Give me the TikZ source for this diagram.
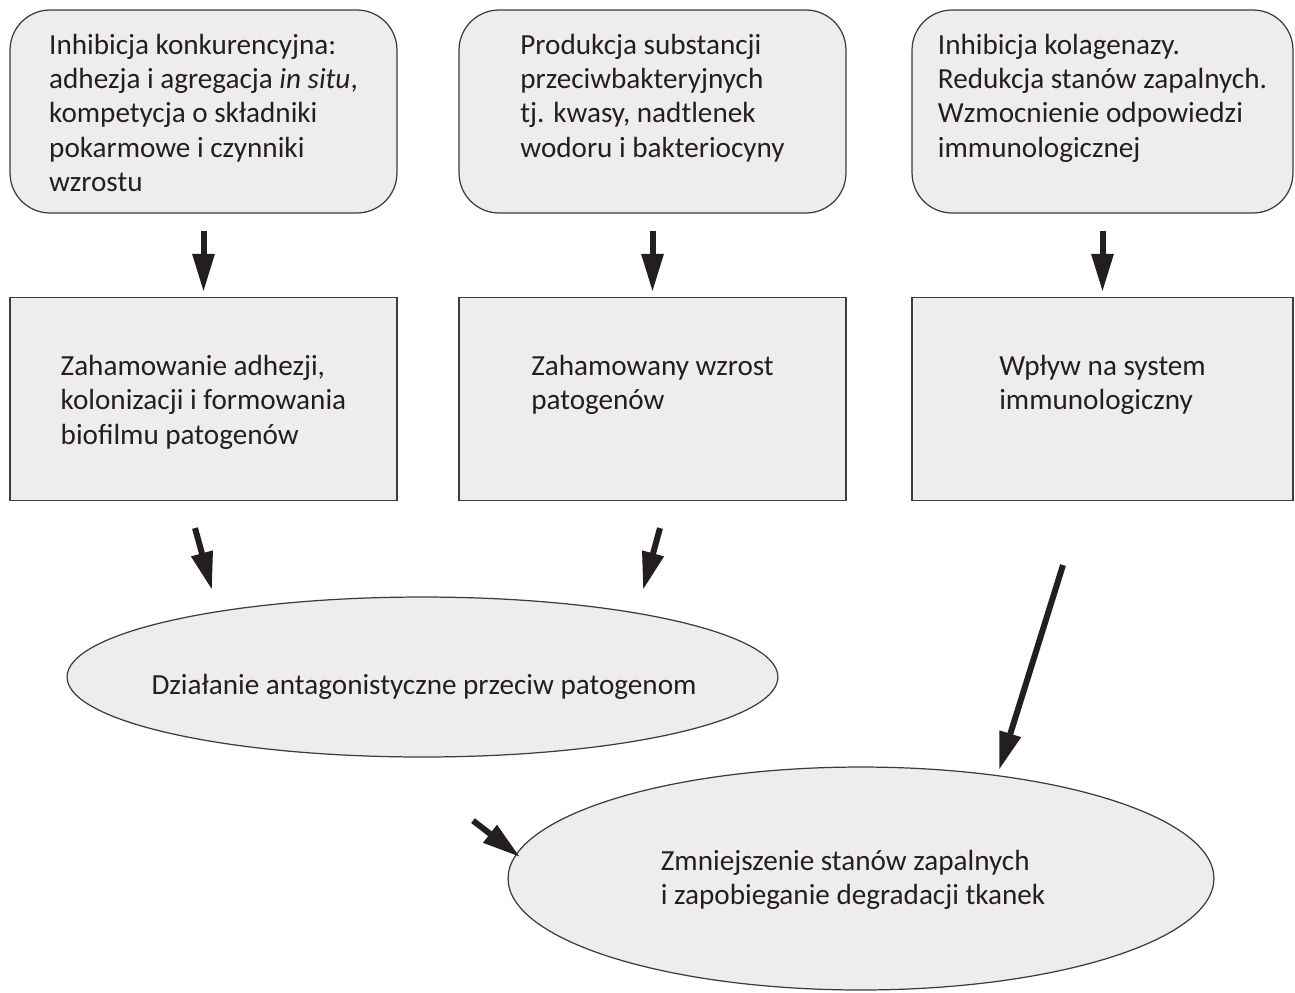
\documentclass[tikz,border=0pt]{standalone}
\usepackage{fontspec}
\setmainfont{Carlito}
\usetikzlibrary{
  arrows.meta,     % Triangle 箭头
  calc,            % 坐标计算
  positioning,     % 节点相对定位
  shapes.geometric % 椭圆节点
}
\definecolor{boxfill}{HTML}{EEEDEB}
\definecolor{boxline}{HTML}{3C3C3C}
\definecolor{ink}{HTML}{231F20}
\tikzset{
  box/.style={draw=boxline, fill=boxfill, line width=0.7pt, inner sep=0pt,
    minimum width=7.74cm, minimum height=4.06cm},
  topbox/.style={box, rounded corners=0.8cm},
  ell/.style={ellipse, draw=boxline, fill=boxfill, line width=0.7pt, inner sep=0pt},
  txt/.style={align=left, text=ink, inner sep=0pt, font=\fontsize{16.6}{19.6}\selectfont},
  arr/.style={draw=ink, line width=1.2mm, -{Triangle[length=7.6mm, width=4.2mm]}}
}

\begin{document}
\begin{tikzpicture}[x=0.02cm, y=-0.02cm] % 整体思路：坐标以像素为单位，y 轴向下
  \useasboundingbox (0,0) rectangle (1295,992); % 固定画布大小

  % 第一列
  \begin{scope}[shift={(0,0)}] % 第一列不平移
    \node[topbox] (T1) at (203.5,111.5) {}; % 上方圆角框
    \node[txt, anchor=north] (T1x) at ($(T1.north)+(0,24)$) {Inhibicja konkurencyjna:\\adhezja i agregacja \textit{in situ},\\kompetycja o składniki\\pokarmowe i czynniki\\wzrostu}; % 框内文字
    \node[box] (M1) at (203.5,399) {}; % 中间方框
    \node[txt, anchor=north] (M1x) at ($(M1.north)+(0,58)$) {Zahamowanie adhezji,\\kolonizacji i formowania\\biofilmu patogenów}; % 框内文字
    \draw[arr, shorten <=0.34cm, shorten >=0.1cm] (T1) -- (M1); % 竖直箭头
  \end{scope}

  % 第二列 (向右平移 449)
  \begin{scope}[shift={(449,0)}]
    \node[topbox] (T2) at (203.5,111.5) {};
    \node[txt, anchor=north] (T2x) at ($(T2.north)+(0,24)$) {Produkcja substancji\\przeciwbakteryjnych\\tj. kwasy, nadtlenek\\wodoru i bakteriocyny};
    \node[box] (M2) at (203.5,399) {};
    \node[txt, anchor=north] (M2x) at ($(M2.north)+(0,58)$) {Zahamowany wzrost\\patogenów};
    \draw[arr, shorten <=0.34cm, shorten >=0.1cm] (T2) -- (M2);
  \end{scope}

  % 第三列 (向右平移 899，框略窄)
  \begin{scope}[shift={(899,0)}]
    \node[topbox, minimum width=7.62cm] (T3) at (203.5,111.5) {};
    \node[txt, anchor=north] (T3x) at ($(T3.north)+(0,24)$) {Inhibicja kolagenazy.\\Redukcja stanów zapalnych.\\Wzmocnienie odpowiedzi\\immunologicznej};
    \node[box, minimum width=7.62cm] (M3) at (203.5,399) {};
    \node[txt, anchor=north] (M3x) at ($(M3.north)+(0,58)$) {Wpływ na system\\immunologiczny};
    \draw[arr, shorten <=0.34cm, shorten >=0.1cm] (T3) -- (M3);
  \end{scope}

  % 椭圆
  \node[ell, minimum width=14.22cm, minimum height=3.2cm] (E1) at (422.5,677) {};
  \node[txt] (E1x) at (424,687) {Działanie antagonistyczne przeciw patogenom};
  \node[ell, minimum width=14.12cm, minimum height=4.46cm] (E2) at (861,878.5) {};
  \node[txt] (E2x) at (853,880) {Zmniejszenie stanów zapalnych\\i zapobieganie degradacji tkanek};

  % 斜向箭头
  \coordinate (P1) at (212,590); % 箭头终点
  \coordinate (P2) at (643,590);
  \coordinate (P3) at (999,770);
  \coordinate (P4) at (520,857);
  \draw[arr] ($(M1.south)+(-8.5,27)$) -- (P1);
  \draw[arr] ($(M2.south)+(7.5,27)$) -- (P2);
  \draw[arr] ($(M3.south)+(-39.5,64)$) -- (P3);
  \draw[arr] ($(E1.south)+(50.5,63)$) -- (P4);
\end{tikzpicture}
\end{document}
